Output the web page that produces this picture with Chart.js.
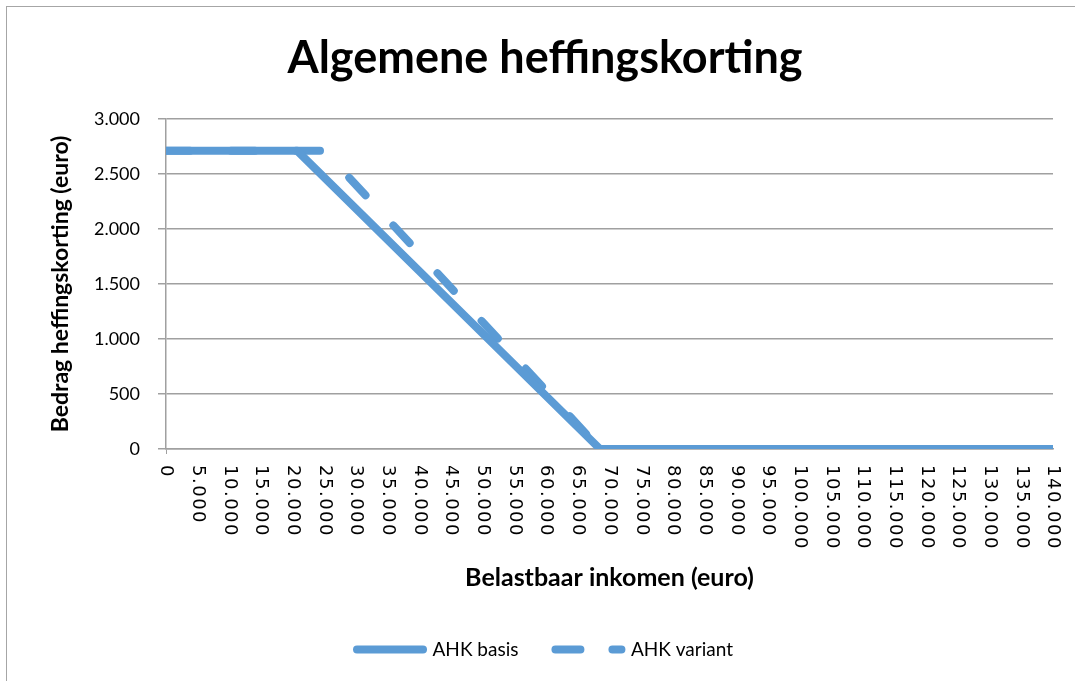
<!DOCTYPE html>
<html>
<head>
<meta charset="utf-8">
<script src="https://cdn.jsdelivr.net/npm/chart.js@4.4.1/dist/chart.umd.min.js"></script>
<style>
  html, body { margin: 0; padding: 0; background: #fff; }
  #wrap { position: relative; width: 1075px; height: 681px; overflow: hidden; }
  #frame { position: absolute; left: 6px; top: 6px; width: 1200px; height: 800px; border: 1.5px solid #a6a6a6; }
  #chart { position: absolute; left: 0; top: 0; }
</style>
</head>
<body>
<div id="wrap">
  <div id="frame"></div>
  <canvas id="chart" width="1075" height="681"></canvas>
</div>
<script>
// inkomen (x) en korting (y) per reeks
const basisInkomen = [0, 20711, 68507, 140000];
const basisKorting = [2711, 2711, 0, 0];
const variantInkomen = [0, 25000, 68507, 140000];
const variantKorting = [2711, 2711, 0, 0];

const xMax = 140000;
const xStap = 5000;
const yMax = 3000;
const yStap = 500;

const blauw = "#5b9bd5";
const grijs = "#a0a0a0";
const streep = [24, 41];
const legendaStreep = [25, 32];

const duizendtal = (v) => String(v).replace(/\B(?=(\d{3})+(?!\d))/g, ".");

const punten = (xs, ys) => xs.map((x, i) => ({ x: x, y: ys[i] }));

// x-labels staan in het origineel 90 graden met de klok mee gedraaid
const verticaleLabels = {
  id: "verticaleLabels",
  afterDraw(chart) {
    const scale = chart.scales.x;
    const ctx = chart.ctx;
    ctx.save();
    ctx.font = "18px 'DejaVu Sans'";
    ctx.letterSpacing = "1.5px";
    ctx.fillStyle = "#000";
    ctx.textAlign = "left";
    ctx.textBaseline = "middle";
    scale.ticks.forEach((t) => {
      const px = scale.getPixelForValue(t.value);
      ctx.save();
      ctx.translate(px, scale.top + 16);
      ctx.rotate(Math.PI / 2);
      ctx.fillText(duizendtal(t.value), 0, 0);
      ctx.restore();
    });
    ctx.restore();
  },
};

new Chart(document.getElementById("chart"), {
  type: "line",
  data: {
    datasets: [
      {
        label: "AHK basis",
        data: punten(basisInkomen, basisKorting),
        borderColor: blauw,
        backgroundColor: blauw,
        borderWidth: 8,
        borderJoinStyle: "round",
        borderCapStyle: "round",
        pointRadius: 0,
        tension: 0,
      },
      {
        label: "AHK variant",
        data: punten(variantInkomen, variantKorting),
        borderColor: blauw,
        backgroundColor: blauw,
        borderWidth: 8,
        borderDash: streep,
        borderJoinStyle: "round",
        borderCapStyle: "round",
        pointRadius: 0,
        tension: 0,
      },
    ],
  },
  options: {
    responsive: false,
    animation: false,
    layout: { padding: { left: 37, right: 22, top: 0, bottom: 12 } },
    scales: {
      x: {
        type: "linear",
        min: 0,
        max: xMax,
        ticks: { display: false, stepSize: xStap },
        grid: {
          drawOnChartArea: false,
          tickLength: 5,
          color: (c) => (c.tick && c.tick.value === 0 ? grijs : "rgba(0,0,0,0)"),
        },
        border: { color: grijs, width: 1.5 },
        title: {
          display: true,
          text: "Belastbaar inkomen (euro)",
          color: "#000",
          font: { family: "Lato", size: 25, weight: "bold" },
          padding: { top: 0, bottom: 10 },
        },
        afterFit(scale) {
          scale.height = 154;
        },
      },
      y: {
        min: 0,
        max: yMax,
        ticks: {
          stepSize: yStap,
          padding: 18,
          color: "#000",
          font: { family: "Lato", size: 18 },
          callback: (v) => duizendtal(v),
        },
        grid: { color: grijs, lineWidth: 1.5, tickLength: 8 },
        border: { color: grijs, width: 1.5 },
        title: {
          display: true,
          text: "Bedrag heffingskorting (euro)",
          color: "#000",
          font: { family: "Lato", size: 23, weight: "bold" },
          padding: { top: 10, bottom: 0 },
        },
        afterFit(scale) {
          scale.width = 129;
        },
      },
    },
    plugins: {
      title: {
        display: true,
        text: "Algemene heffingskorting",
        color: "#000",
        font: { family: "Lato", size: 45, weight: "bold" },
        padding: { top: 31, bottom: 34 },
      },
      legend: {
        position: "bottom",
        labels: {
          usePointStyle: true,
          pointStyleWidth: 66,
          padding: 37,
          color: "#000",
          font: { family: "Lato", size: 19 },
          generateLabels: (chart) =>
            chart.data.datasets.map((ds, i) => ({
              text: ds.label,
              fillStyle: ds.borderColor,
              strokeStyle: ds.borderColor,
              lineWidth: ds.borderWidth,
              lineDash: ds.borderDash ? legendaStreep : [],
              lineCap: "round",
              pointStyle: "line",
              fontColor: "#000",
              hidden: false,
              datasetIndex: i,
            })),
        },
      },
      tooltip: { enabled: false },
    },
  },
  plugins: [verticaleLabels],
});
</script>
</body>
</html>
